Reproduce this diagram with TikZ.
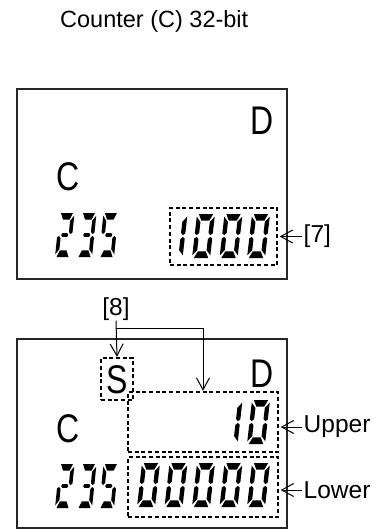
\documentclass[tikz,border=0pt]{standalone}
\usepackage{fontspec}
\setmainfont{Liberation Sans}
\usepackage{graphicx}
\usetikzlibrary{arrows.meta}

% segments of one LCD digit, unit cell, y up
\newcommand{\lcdsega}{\fill (0.1,1) -- (0.9,1) -- (0.72,0.85) -- (0.28,0.85) -- cycle;}
\newcommand{\lcdsegb}{\fill (1,0.94) -- (0.76,0.82) -- (0.76,0.57) -- (0.88,0.52) -- (1,0.56) -- cycle;}
\newcommand{\lcdsegc}{\fill (1,0.06) -- (0.76,0.18) -- (0.76,0.43) -- (0.88,0.48) -- (1,0.44) -- cycle;}
\newcommand{\lcdsegd}{\fill (0.1,0) -- (0.9,0) -- (0.72,0.15) -- (0.28,0.15) -- cycle;}
\newcommand{\lcdsege}{\fill (0,0.06) -- (0.24,0.18) -- (0.24,0.43) -- (0.12,0.48) -- (0,0.44) -- cycle;}
\newcommand{\lcdsegf}{\fill (0,0.94) -- (0.24,0.82) -- (0.24,0.57) -- (0.12,0.52) -- (0,0.56) -- cycle;}
\newcommand{\lcdsegg}{\fill (0.26,0.5) -- (0.34,0.545) -- (0.66,0.545) -- (0.74,0.5) -- (0.66,0.455) -- (0.34,0.455) -- cycle;}
\newcommand{\lcddigit}[3]{\begin{scope}[shift={#1},#2]\foreach \s in {#3}{\csname lcdseg\s\endcsname}\end{scope}}
\newcommand{\narrowchar}[1]{\scalebox{0.8}[1]{#1}}

\begin{document}
\begin{tikzpicture}[x=1pt,y=-1pt,
  panel/.style={draw=black!85,line width=1.1pt,minimum width=270pt,minimum height=190pt,inner sep=0pt},
  dashframe/.style={draw,line width=2.3pt,dash pattern=on 4pt off 2.7pt,inner sep=0pt},
  letter/.style={font=\fontsize{40}{40}\selectfont,inner sep=0pt,anchor=base},
  label/.style={font=\fontsize{24.5}{27}\selectfont,inner sep=1.5pt},
  pointer/.style={line width=1pt,-{Straight Barb[length=12pt,width=13pt,line width=1pt]}},
  small/.style={xscale=15,yscale=-44,xslant=-0.3},
  big/.style={xscale=18,yscale=-44,xslant=-0.28}]
\useasboundingbox (0,0) rectangle (387,529);
\node[label,anchor=base west,inner sep=0pt,font=\fontsize{23.5}{27}\selectfont] (title) at (60,28) {Counter (C) 32-bit};
% upper display
\node[panel] (top panel) at (152,184) {};
\node[letter] (topD) at (262,135) {\narrowchar{D}};
\node[letter] (topC) at (68,190) {\narrowchar{C}};
\lcddigit{(55,257)}{small}{a,b,g,e,d}
\lcddigit{(77,257)}{small}{a,b,g,c,d}
\lcddigit{(99,257)}{small}{a,f,g,c,d}
\lcddigit{(164.5,258)}{big}{b,c}
\lcddigit{(192,258)}{big}{a,b,c,d,e,f}
\lcddigit{(219.5,258)}{big}{a,b,c,d,e,f}
\lcddigit{(247,258)}{big}{a,b,c,d,e,f}
\node[dashframe,minimum width=107pt,minimum height=57pt] (box7) at (223.5,236.5) {};
\node[label,anchor=west] (lbl7) at (302,236.5) {[7]};
\draw[pointer,shorten >=1.5pt] (lbl7.west) -- (box7.east);
% lower display
\node[panel,minimum height=189pt] (bottom panel) at (152,433.5) {};
\node[letter] (botD) at (262,387) {\narrowchar{D}};
\node[letter] (botC) at (68,442) {\narrowchar{C}};
\node[letter] (botS) at (117,393) {\narrowchar{S}};
\lcddigit{(55,508)}{small}{a,b,g,e,d}
\lcddigit{(77,508)}{small}{a,b,g,c,d}
\lcddigit{(99,508)}{small}{a,f,g,c,d}
\lcddigit{(219.5,444)}{big}{b,c}
\lcddigit{(247,444)}{big}{a,b,c,d,e,f}
\foreach \px in {137,164.5,192,219.5,247}
  \lcddigit{(\px,507)}{big}{a,b,c,d,e,f};
\node[dashframe,minimum width=32pt,minimum height=42pt] (sbox) at (117,379) {};
\node[dashframe,minimum width=150pt,minimum height=60pt] (upbox) at (203,422) {};
\node[dashframe,minimum width=150pt,minimum height=60pt] (lowbox) at (203,487) {};
\node[label,anchor=west] (upper) at (302,427) {Upper};
\node[label,anchor=west] (lower) at (302,490) {Lower};
\draw[pointer,shorten >=1.5pt] (upper.west) -- (upbox.east |- upper.west);
\draw[pointer,shorten >=1.5pt] (lower.west) -- (lowbox.east |- lower.west);
\node[label,inner sep=0pt] (lbl8) at (116,309) {[8]};
\coordinate (fork) at (116,328);
\draw[pointer] (lbl8.south) -- (sbox.north);
\draw[pointer] (fork) -| (upbox.north);
\end{tikzpicture}
\end{document}
